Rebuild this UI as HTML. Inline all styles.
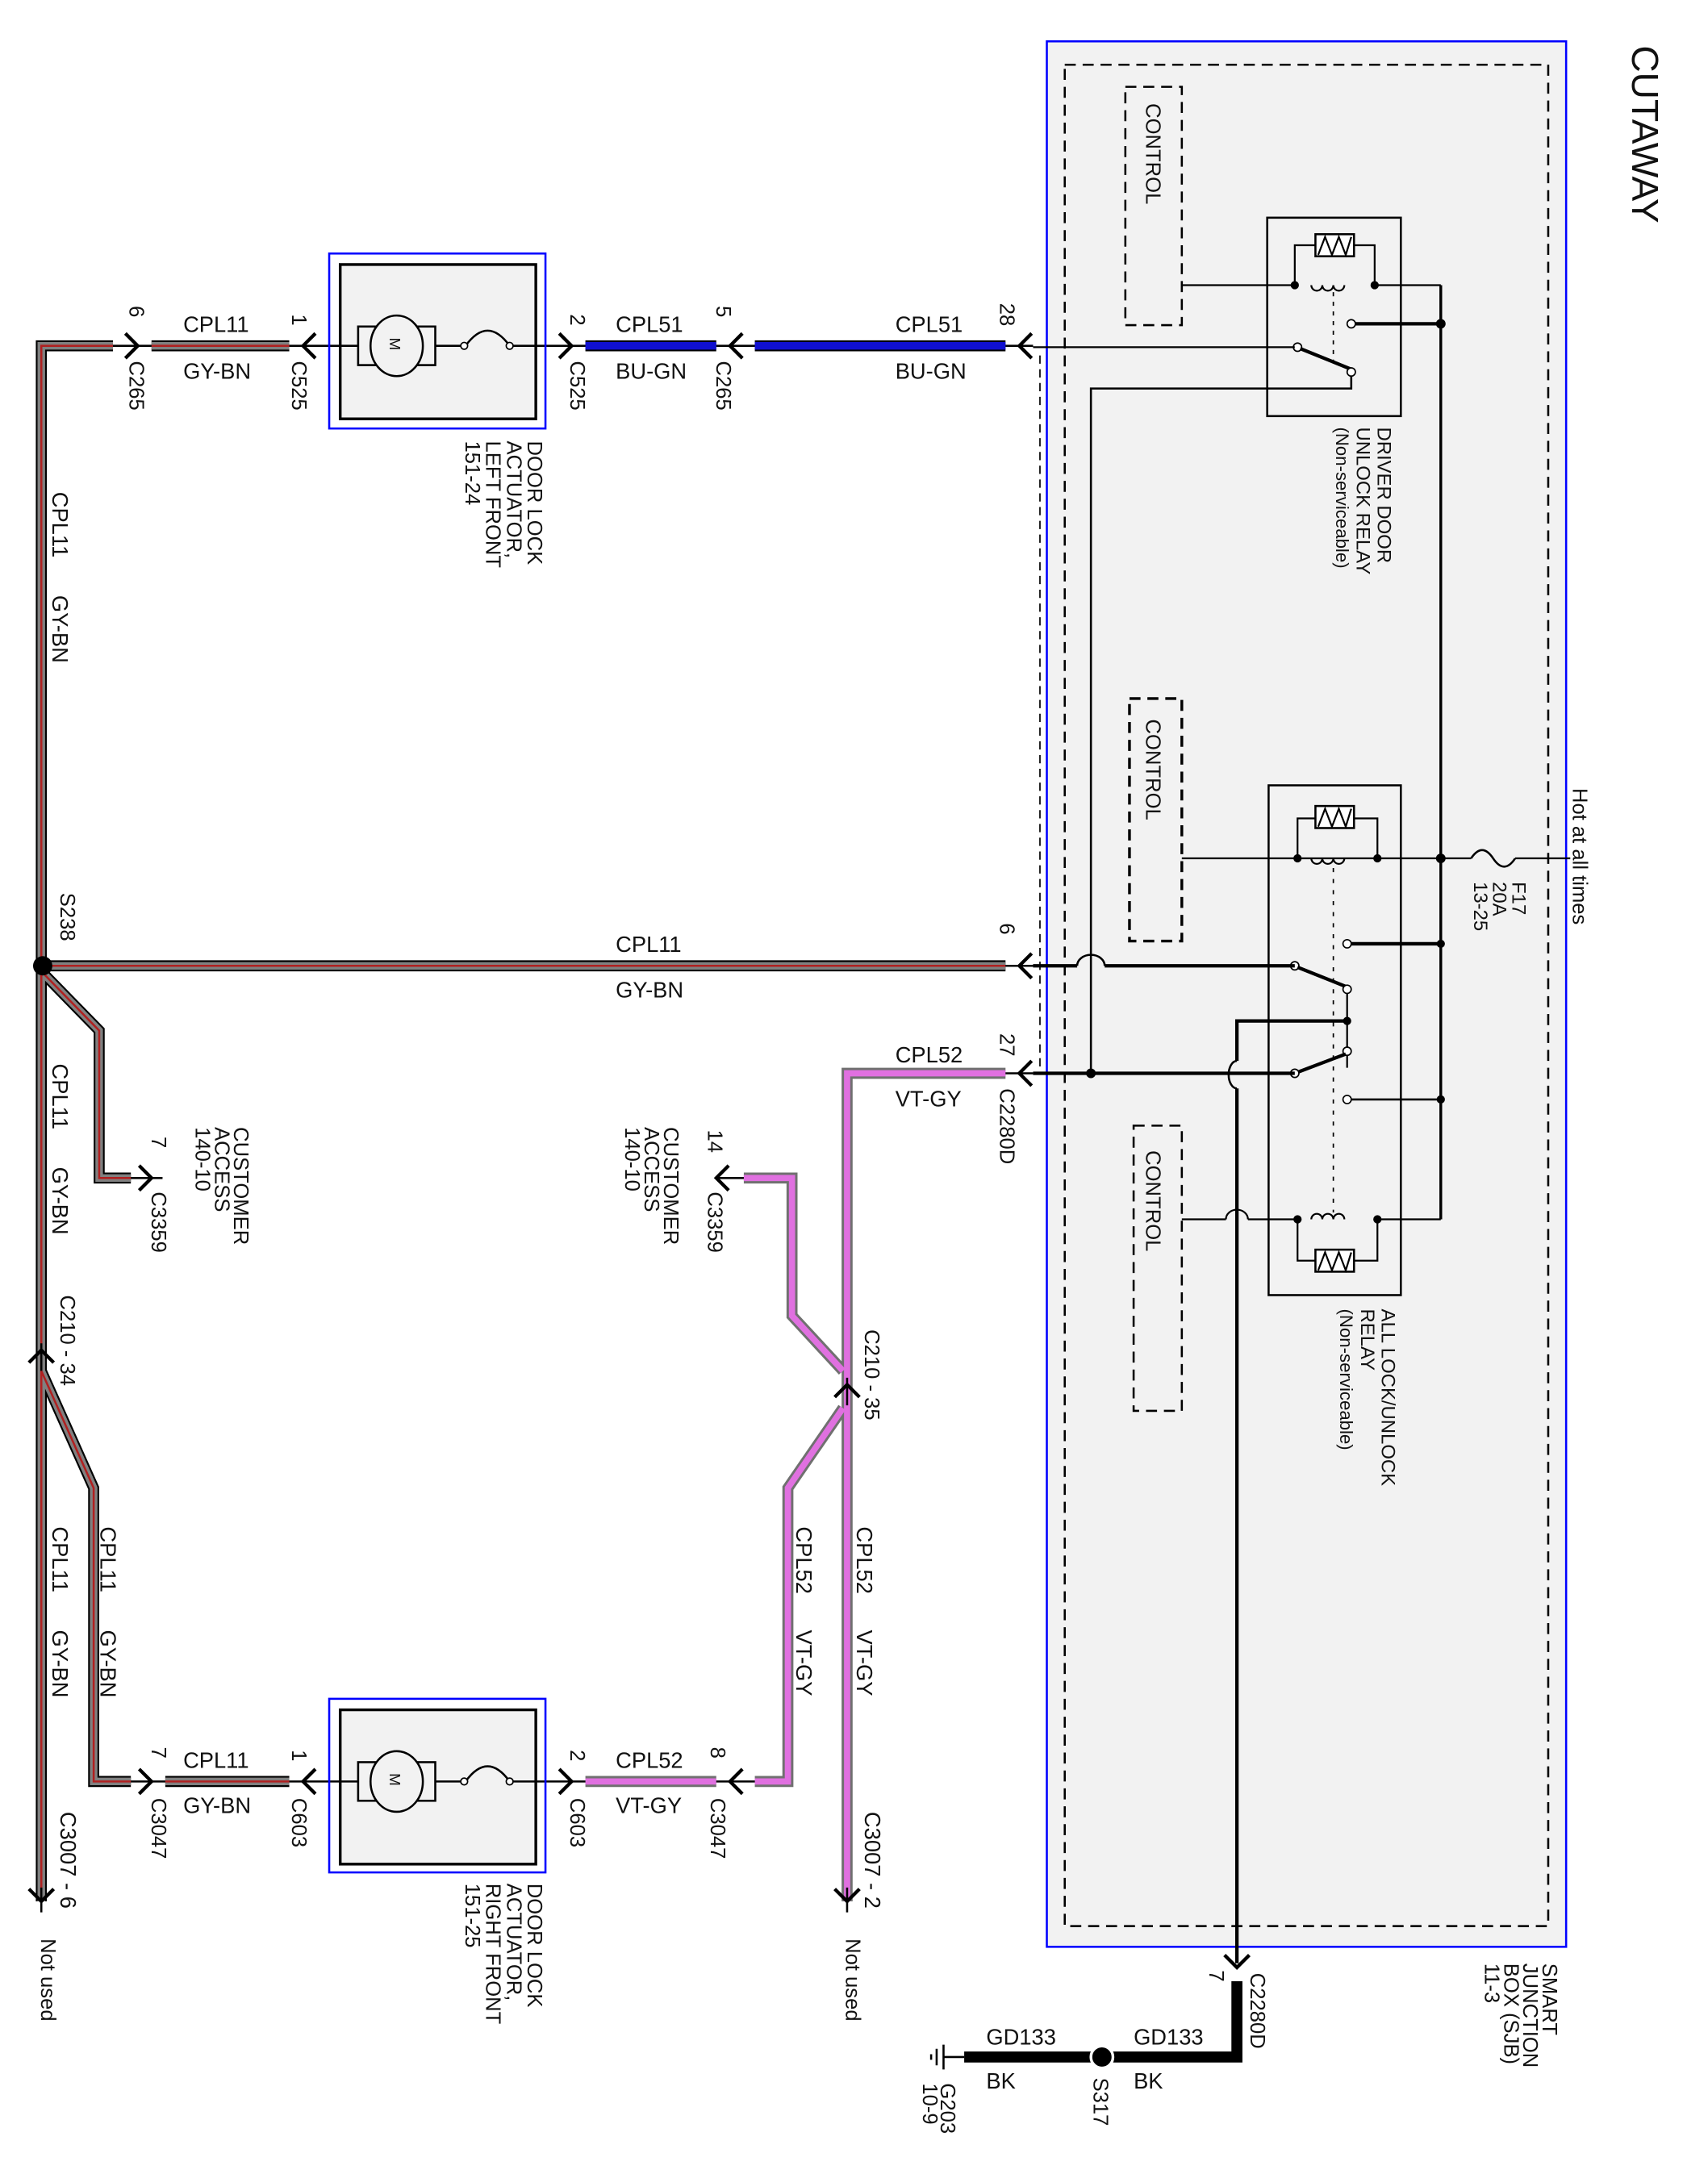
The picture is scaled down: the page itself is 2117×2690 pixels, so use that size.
<!DOCTYPE html>
<html><head><meta charset="utf-8"><style>
html,body{margin:0;padding:0;background:#fff}
svg{display:block}
text{font-family:"Liberation Sans",sans-serif;fill:#111}
</style></head><body>
<svg width="2117" height="2690" viewBox="0 0 1240 1575" preserveAspectRatio="none" xmlns="http://www.w3.org/2000/svg">
<defs>
<g id="fk"><path d="M-9,-9 L0,0 L-9,9" fill="none" stroke="#000" stroke-width="2.5"/></g>
</defs>
<!-- SJB -->
<rect x="760" y="30" width="377" height="1383" fill="#f2f2f2" stroke="#0000ff" stroke-width="1.5"/>
<rect x="773" y="47" width="351" height="1351" fill="none" stroke="#000" stroke-width="1.5" stroke-dasharray="8,5"/>
<text transform="translate(1185,33) rotate(90)" font-size="27">CUTAWAY</text>
<text transform="translate(1142,572) rotate(90)" font-size="15">Hot at all times</text>
<text transform="translate(1120,1425) rotate(90)" font-size="15">SMART</text>
<text transform="translate(1106,1425) rotate(90)" font-size="15">JUNCTION</text>
<text transform="translate(1092,1425) rotate(90)" font-size="15">BOX (SJB)</text>
<text transform="translate(1078,1425) rotate(90)" font-size="15">11-3</text>

<!-- control boxes -->
<rect x="817" y="63" width="41" height="173" fill="none" stroke="#000" stroke-width="1.5" stroke-dasharray="8,5"/>
<text transform="translate(832,75) rotate(90)" font-size="15">CONTROL</text>
<rect x="820" y="507" width="38" height="176" fill="none" stroke="#000" stroke-width="2" stroke-dasharray="8,5"/>
<text transform="translate(832,522) rotate(90)" font-size="15">CONTROL</text>
<rect x="823" y="817" width="35" height="207" fill="none" stroke="#000" stroke-width="1.5" stroke-dasharray="8,5"/>
<text transform="translate(832,835) rotate(90)" font-size="15">CONTROL</text>

<!-- relay 1 -->
<rect x="920" y="158" width="97" height="144" fill="none" stroke="#000" stroke-width="1.5"/>
<text transform="translate(1000,310) rotate(90)" font-size="14">DRIVER DOOR</text>
<text transform="translate(985,310) rotate(90)" font-size="14">UNLOCK RELAY</text>
<text transform="translate(970,310) rotate(90)" font-size="13">(Non-serviceable)</text>
<rect x="955" y="170" width="28" height="16" fill="#fff" stroke="#000" stroke-width="1.5"/>
<path d="M957,185 L962,172 L967,185 L972,172 L977,185 L981,172" fill="none" stroke="#000" stroke-width="1.3"/>
<path d="M940,207 V178 H955 M983,178 H998 V207" fill="none" stroke="#000" stroke-width="1.3"/>
<path d="M858,207 H940 M998,207 H1046" stroke="#000" stroke-width="1.3"/>
<path d="M952,207 a4,4 0 0 0 8,0 a4,4 0 0 0 8,0 a4,4 0 0 0 8,0" fill="none" stroke="#000" stroke-width="1.3"/>
<circle cx="940" cy="207" r="3"/><circle cx="998" cy="207" r="3"/>
<path d="M968,212 V262" stroke="#000" stroke-dasharray="3,4"/>
<circle cx="981" cy="235" r="3" fill="#fff" stroke="#000"/>
<path d="M984,235 H1046" stroke="#000" stroke-width="2.5"/>
<circle cx="942" cy="252" r="3" fill="#fff" stroke="#000"/>
<path d="M944,253 L981,268" stroke="#000" stroke-width="2.5"/>
<circle cx="981" cy="270" r="3" fill="#fff" stroke="#000"/>
<path d="M981,273 V282 H792 V780" fill="none" stroke="#000" stroke-width="1.5"/>
<path d="M750,252 H940" stroke="#000" stroke-width="1.3"/>

<!-- power bus -->
<path d="M1046,207 V885" stroke="#000" stroke-width="2"/>
<circle cx="1046" cy="235" r="3.5"/><circle cx="1046" cy="623" r="3.5"/><circle cx="1046" cy="685" r="3"/><circle cx="1046" cy="798" r="3"/>
<path d="M858,623 H1068 M1100,623 H1140" stroke="#000" stroke-width="1.3"/>
<path d="M1068,623 q8,-12 16,0 q8,12 16,0" fill="none" stroke="#000" stroke-width="1.5"/>
<text transform="translate(1098,640) rotate(90)" font-size="14">F17</text>
<text transform="translate(1084,640) rotate(90)" font-size="14">20A</text>
<text transform="translate(1070,640) rotate(90)" font-size="14">13-25</text>

<!-- relay 2 -->
<rect x="921" y="570" width="96" height="370" fill="none" stroke="#000" stroke-width="1.5"/>
<text transform="translate(1003,950) rotate(90)" font-size="14">ALL LOCK/UNLOCK</text>
<text transform="translate(988,950) rotate(90)" font-size="14">RELAY</text>
<text transform="translate(973,950) rotate(90)" font-size="13">(Non-serviceable)</text>
<rect x="955" y="585" width="28" height="16" fill="#fff" stroke="#000" stroke-width="1.5"/>
<path d="M957,600 L962,587 L967,600 L972,587 L977,600 L981,587" fill="none" stroke="#000" stroke-width="1.3"/>
<path d="M942,623 V594 H955 M983,594 H1000 V623" fill="none" stroke="#000" stroke-width="1.3"/>
<path d="M952,623 a4,4 0 0 0 8,0 a4,4 0 0 0 8,0 a4,4 0 0 0 8,0" fill="none" stroke="#000" stroke-width="1.3"/>
<circle cx="942" cy="623" r="3"/><circle cx="1000" cy="623" r="3"/>
<path d="M968,630 V880" stroke="#000" stroke-dasharray="3,5"/>
<circle cx="978" cy="685" r="3" fill="#fff" stroke="#000"/><path d="M981,685 H1046" stroke="#000" stroke-width="2.5"/>
<circle cx="940" cy="701" r="3" fill="#fff" stroke="#000"/>
<path d="M942,702 L977,716" stroke="#000" stroke-width="2.5"/>
<circle cx="978" cy="718" r="3" fill="#fff" stroke="#000"/>
<path d="M978,721 V775" stroke="#000" stroke-width="1.3"/>
<circle cx="978" cy="741" r="3"/>
<path d="M978,741 H898 V770 M898,790 V1425" fill="none" stroke="#000" stroke-width="2.5"/>
<path d="M898,770 a6,10 0 0 0 0,20" fill="none" stroke="#000" stroke-width="1.5"/>
<circle cx="978" cy="763" r="3" fill="#fff" stroke="#000"/>
<path d="M940,779 L977,765" stroke="#000" stroke-width="2.5"/>
<circle cx="940" cy="779" r="3" fill="#fff" stroke="#000"/>
<circle cx="978" cy="798" r="3" fill="#fff" stroke="#000"/><path d="M981,798 H1046" stroke="#000" stroke-width="1.5"/>
<path d="M858,885 H890 M906,885 H942 M1000,885 H1046" stroke="#000" stroke-width="1.3"/>
<path d="M890,885 a8,7 0 0 1 16,0" fill="none" stroke="#000" stroke-width="1.3"/>
<path d="M952,885 a4,4 0 0 1 8,0 a4,4 0 0 1 8,0 a4,4 0 0 1 8,0" fill="none" stroke="#000" stroke-width="1.3"/>
<circle cx="942" cy="885" r="3"/><circle cx="1000" cy="885" r="3"/>
<path d="M942,885 V915 H955 M983,915 H1000 V885" fill="none" stroke="#000" stroke-width="1.3"/>
<rect x="955" y="907" width="28" height="16" fill="#fff" stroke="#000" stroke-width="1.5"/>
<path d="M957,922 L962,909 L967,922 L972,909 L977,922 L981,909" fill="none" stroke="#000" stroke-width="1.3"/>

<!-- connections from SJB to left -->
<path d="M750,701 H782 M802,701 H940" stroke="#000" stroke-width="2.5"/>
<path d="M782,701 a10,8 0 0 1 20,0" fill="none" stroke="#000" stroke-width="1.5"/>
<path d="M750,779 H940" stroke="#000" stroke-width="2.5"/>
<circle cx="792" cy="779" r="3.5"/>
<path d="M755,258 V780" stroke="#000" stroke-dasharray="6,4"/>

<!-- wires GY-BN -->
<g fill="none" stroke-linejoin="miter">
<g stroke="#000" stroke-width="8">
<path d="M82,251 H30 V1380"/><path d="M110,251 H210"/><path d="M30,701 H730"/>
<path d="M30,705 L72,748 V855 H95"/><path d="M30,995 L68,1080 V1293 H95"/><path d="M120,1293 H210"/>
</g>
<g stroke="#808080" stroke-width="5.5">
<path d="M82,251 H30 V1380"/><path d="M110,251 H210"/><path d="M30,701 H730"/>
<path d="M30,705 L72,748 V855 H95"/><path d="M30,995 L68,1080 V1293 H95"/><path d="M120,1293 H210"/>
</g>
<g stroke="#b02020" stroke-width="1.5">
<path d="M82,251 H30 V1380"/><path d="M110,251 H210"/><path d="M30,701 H730"/>
<path d="M30,705 L72,748 V855 H95"/><path d="M30,995 L68,1080 V1293 H95"/><path d="M120,1293 H210"/>
</g>
<!-- BU-GN -->
<path d="M425,251 H520 M548,251 H730" stroke="#000" stroke-width="8"/>
<path d="M425,251 H520 M548,251 H730" stroke="#1010d0" stroke-width="5.5"/>
<!-- VT-GY -->
<g stroke="#707070" stroke-width="8">
<path d="M730,779 H615 V1380"/><path d="M540,855 H575 V955 L612,995"/><path d="M425,1293 H520"/><path d="M548,1293 H572 V1080 L612,1022"/>
</g>
<g stroke="#e070e0" stroke-width="4.5">
<path d="M730,779 H615 V1380"/><path d="M540,855 H575 V955 L612,995"/><path d="M425,1293 H520"/><path d="M548,1293 H572 V1080 L612,1022"/>
</g>
</g>
<!-- thin connector stubs -->
<path d="M82,251 H110 M210,251 H247 M389,251 H425 M520,251 H548 M730,251 H750 M730,701 H750 M730,779 H750 M95,855 H118 M95,1293 H120 M210,1293 H247 M389,1293 H425 M520,1293 H548 M520,855 H540" stroke="#000" stroke-width="1.5"/>
<path d="M30,975 V995 M615,1000 V1020 M30,1370 V1388 M615,1370 V1388" stroke="#000" stroke-width="1.5"/>
<!-- connector arrows -->
<use href="#fk" transform="translate(100,251)"/>
<use href="#fk" transform="translate(220,251) rotate(180)"/>
<use href="#fk" transform="translate(415,251)"/>
<use href="#fk" transform="translate(530,251) rotate(180)"/>
<use href="#fk" transform="translate(740,251) rotate(180)"/>
<use href="#fk" transform="translate(740,701) rotate(180)"/>
<use href="#fk" transform="translate(740,779) rotate(180)"/>
<use href="#fk" transform="translate(110,855)"/>
<use href="#fk" transform="translate(520,855) rotate(180)"/>
<use href="#fk" transform="translate(110,1293)"/>
<use href="#fk" transform="translate(220,1293) rotate(180)"/>
<use href="#fk" transform="translate(415,1293)"/>
<use href="#fk" transform="translate(530,1293) rotate(180)"/>
<use href="#fk" transform="translate(30,980) rotate(-90)"/>
<use href="#fk" transform="translate(615,1005) rotate(-90)"/>
<use href="#fk" transform="translate(30,1380) rotate(90)"/>
<use href="#fk" transform="translate(615,1380) rotate(90)"/>
<use href="#fk" transform="translate(898,1428) rotate(90)"/>
<circle cx="31" cy="701" r="7"/>

<!-- actuators -->
<rect x="239" y="184" width="157" height="127" fill="none" stroke="#0000ff" stroke-width="1.5"/>
<rect x="247" y="192" width="142" height="112" fill="#f2f2f2" stroke="#000" stroke-width="2"/>
<rect x="239" y="1233" width="157" height="126" fill="none" stroke="#0000ff" stroke-width="1.5"/>
<rect x="247" y="1241" width="142" height="112" fill="#f2f2f2" stroke="#000" stroke-width="2"/>
<g id="mot">
<path d="M247,251 H260 M316,251 H336 M372,251 H389" stroke="#000" stroke-width="1.5"/>
<rect x="260" y="237" width="56" height="28" fill="#f2f2f2" stroke="#000" stroke-width="1.5"/>
<ellipse cx="288" cy="251" rx="19" ry="22" fill="#f2f2f2" stroke="#000" stroke-width="1.5"/>
<text transform="translate(283,245) rotate(90)" font-size="11" fill="#555">M</text>
<path d="M338,251 q16,-22 32,0" fill="none" stroke="#000" stroke-width="1.5"/>
<circle cx="337" cy="251" r="2.5" fill="#fff" stroke="#000"/><circle cx="370" cy="251" r="2.5" fill="#fff" stroke="#000"/>
</g>
<use href="#mot" transform="translate(0,1042)"/>

<!-- ground -->
<path d="M898,1438 V1493 H700" fill="none" stroke="#000" stroke-width="8"/>
<circle cx="800" cy="1493" r="8" stroke="#fff" stroke-width="2"/>
<path d="M700,1493 H685 M685,1484 V1502 M680,1487 V1499 M676,1491 V1495" stroke="#000" stroke-width="1.5"/>

<!-- wire labels -->
<g font-size="16">
<text x="133" y="241">CPL11</text><text x="133" y="275">GY-BN</text>
<text x="447" y="241">CPL51</text><text x="447" y="275">BU-GN</text>
<text x="650" y="241">CPL51</text><text x="650" y="275">BU-GN</text>
<text x="447" y="691">CPL11</text><text x="447" y="724">GY-BN</text>
<text x="650" y="771">CPL52</text><text x="650" y="803">VT-GY</text>
<text x="133" y="1283">CPL11</text><text x="133" y="1316">GY-BN</text>
<text x="447" y="1283">CPL52</text><text x="447" y="1316">VT-GY</text>
<text x="716" y="1484">GD133</text><text x="716" y="1516">BK</text>
<text x="823" y="1484">GD133</text><text x="823" y="1516">BK</text>
</g>
<g font-size="16">
<text transform="translate(38,357) rotate(90)">CPL11</text>
<text transform="translate(38,432) rotate(90)">GY-BN</text>
<text transform="translate(38,772) rotate(90)">CPL11</text>
<text transform="translate(38,847) rotate(90)">GY-BN</text>
<text transform="translate(38,1108) rotate(90)">CPL11</text>
<text transform="translate(38,1183) rotate(90)">GY-BN</text>
<text transform="translate(73,1108) rotate(90)">CPL11</text>
<text transform="translate(73,1183) rotate(90)">GY-BN</text>
<text transform="translate(578,1108) rotate(90)">CPL52</text>
<text transform="translate(578,1183) rotate(90)">VT-GY</text>
<text transform="translate(622,1108) rotate(90)">CPL52</text>
<text transform="translate(622,1183) rotate(90)">VT-GY</text>
</g>
<!-- connector labels -->
<g font-size="15">
<text transform="translate(94,222) rotate(90)">6</text>
<text transform="translate(94,262) rotate(90)">C265</text>
<text transform="translate(212,228) rotate(90)">1</text>
<text transform="translate(212,262) rotate(90)">C525</text>
<text transform="translate(414,228) rotate(90)">2</text>
<text transform="translate(414,262) rotate(90)">C525</text>
<text transform="translate(520,222) rotate(90)">5</text>
<text transform="translate(520,262) rotate(90)">C265</text>
<text transform="translate(726,220) rotate(90)">28</text>
<text transform="translate(726,670) rotate(90)">6</text>
<text transform="translate(726,750) rotate(90)">27</text>
<text transform="translate(726,790) rotate(90)">C2280D</text>
<text transform="translate(44,648) rotate(90)">S238</text>
<text transform="translate(110,825) rotate(90)">7</text>
<text transform="translate(110,865) rotate(90)">C3359</text>
<text transform="translate(514,820) rotate(90)">14</text>
<text transform="translate(514,865) rotate(90)">C3359</text>
<text transform="translate(44,940) rotate(90)">C210 - 34</text>
<text transform="translate(628,965) rotate(90)">C210 - 35</text>
<text transform="translate(110,1268) rotate(90)">7</text>
<text transform="translate(110,1305) rotate(90)">C3047</text>
<text transform="translate(212,1270) rotate(90)">1</text>
<text transform="translate(212,1305) rotate(90)">C603</text>
<text transform="translate(414,1270) rotate(90)">2</text>
<text transform="translate(414,1305) rotate(90)">C603</text>
<text transform="translate(516,1268) rotate(90)">8</text>
<text transform="translate(516,1305) rotate(90)">C3047</text>
<text transform="translate(44,1315) rotate(90)" font-size="16">C3007 - 6</text>
<text transform="translate(628,1315) rotate(90)" font-size="16">C3007 - 2</text>
<text transform="translate(30,1407) rotate(90)">Not used</text>
<text transform="translate(614,1407) rotate(90)">Not used</text>
<text transform="translate(878,1430) rotate(90)">7</text>
<text transform="translate(908,1432) rotate(90)">C2280D</text>
<text transform="translate(794,1508) rotate(90)">S317</text>
<text transform="translate(683,1512) rotate(90)">G203</text>
<text transform="translate(670,1512) rotate(90)">10-9</text>
<text transform="translate(170,818) rotate(90)">CUSTOMER</text>
<text transform="translate(156,818) rotate(90)">ACCESS</text>
<text transform="translate(142,818) rotate(90)">140-10</text>
<text transform="translate(482,818) rotate(90)">CUSTOMER</text>
<text transform="translate(468,818) rotate(90)">ACCESS</text>
<text transform="translate(454,818) rotate(90)">140-10</text>
<text transform="translate(383,320) rotate(90)">DOOR LOCK</text>
<text transform="translate(368,320) rotate(90)">ACTUATOR,</text>
<text transform="translate(353,320) rotate(90)">LEFT FRONT</text>
<text transform="translate(338,320) rotate(90)">151-24</text>
<text transform="translate(383,1367) rotate(90)">DOOR LOCK</text>
<text transform="translate(368,1367) rotate(90)">ACTUATOR,</text>
<text transform="translate(353,1367) rotate(90)">RIGHT FRONT</text>
<text transform="translate(338,1367) rotate(90)">151-25</text>
</g>
</svg>
</body></html>
